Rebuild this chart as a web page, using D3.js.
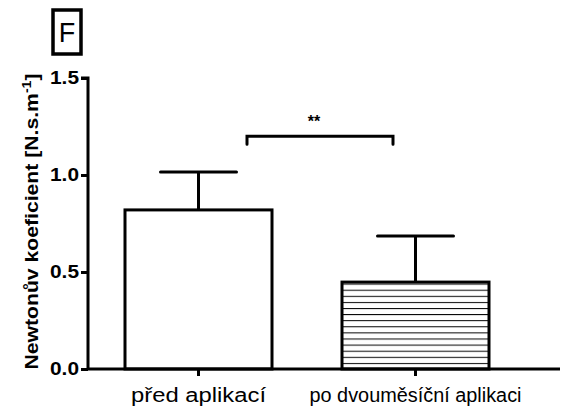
<!DOCTYPE html>
<html><head><meta charset="utf-8">
<script src="https://cdn.jsdelivr.net/npm/d3@7"></script>
<style>body{margin:0;background:#fff}svg{display:block}</style>
</head><body>
<script>
const categories = ["před aplikací", "po dvouměsíční aplikaci"];
const means = [0.82, 0.448];
const sems = [0.195, 0.238];
const yTicks = [0.0, 0.5, 1.0, 1.5];
const yLabel = "Newtonův koeficient [N.s.m";
const panelLetter = "F";
const sigLabel = "**";

const W = 582, H = 417;
const svg = d3.select("body").append("svg").attr("width", W).attr("height", H);
const x0 = 88, x1 = 560, yTop = 78, yBot = 369;
const FONT = "Liberation Sans, Arial, sans-serif";

const y = d3.scaleLinear().domain([0, 1.5]).range([yBot, yTop]);
const x = d3.scaleBand().domain(categories).range([88, 526]).paddingInner(70 / 217).paddingOuter(37 / 217);

// hatch pattern
const defs = svg.append("defs");
const pat = defs.append("pattern").attr("id", "hatch").attr("patternUnits", "userSpaceOnUse")
  .attr("width", 10).attr("height", 6.1).attr("y", yBot);
pat.append("rect").attr("width", 10).attr("height", 6.1).attr("fill", "#fff");
pat.append("line").attr("x1", 0).attr("x2", 10).attr("y1", 0.5).attr("y2", 0.5)
  .attr("stroke", "#000").attr("stroke-width", 1);

const g = svg.append("g");

// bars
g.selectAll("rect.bar").data(categories).enter().append("rect")
  .attr("x", d => x(d)).attr("width", x.bandwidth())
  .attr("y", (d, i) => y(means[i])).attr("height", (d, i) => yBot - y(means[i]))
  .attr("fill", (d, i) => i === 0 ? "#fff" : "url(#hatch)")
  .attr("stroke", "#000").attr("stroke-width", 3);

// error bars
categories.forEach((c, i) => {
  const cx = x(c) + x.bandwidth() / 2;
  g.append("line").attr("x1", cx).attr("x2", cx).attr("y1", y(means[i])).attr("y2", y(means[i] + sems[i]))
    .attr("stroke", "#000").attr("stroke-width", 3);
  g.append("line").attr("x1", cx - 38).attr("x2", cx + 38).attr("y1", y(means[i] + sems[i])).attr("y2", y(means[i] + sems[i]))
    .attr("stroke", "#000").attr("stroke-width", 3).attr("stroke-linecap", "round");
});

// y axis
const yAxis = d3.axisLeft(y).tickValues(yTicks).tickFormat(d3.format(".1f")).tickSize(7).tickPadding(2);
const ya = svg.append("g").attr("transform", `translate(${x0},0)`).call(yAxis);
ya.select(".domain").attr("stroke-width", 3).attr("d", `M-7,${yTop}H0V${yBot}`);
ya.selectAll(".tick line").attr("stroke-width", 3);
ya.selectAll(".tick text").attr("font-family", FONT)
  .attr("font-weight", "bold").attr("font-size", 18).attr("fill", "#000")
  .attr("textLength", 29).attr("lengthAdjust", "spacingAndGlyphs");

// x axis
const xAxis = d3.axisBottom(x).tickSize(7).tickPadding(12);
const xa = svg.append("g").attr("transform", `translate(0,${yBot})`).call(xAxis);
xa.select(".domain").attr("stroke-width", 3).attr("d", `M${x0},0H${x1}`);
xa.selectAll(".tick line").attr("stroke-width", 3);
xa.selectAll(".tick text").attr("font-family", FONT)
  .attr("font-size", 20).attr("fill", "#000")
  .attr("textLength", (d, i) => i === 0 ? 135 : 212).attr("lengthAdjust", "spacingAndGlyphs");

// y label
const yl = svg.append("text").attr("transform", `translate(38,${(yTop + yBot) / 2 - 2}) rotate(-90)`)
  .attr("text-anchor", "middle").attr("font-family", FONT)
  .attr("font-weight", "bold").attr("font-size", 18)
  .attr("textLength", 296).attr("lengthAdjust", "spacingAndGlyphs");
yl.append("tspan").text(yLabel);
yl.append("tspan").attr("baseline-shift", "super").attr("font-size", 12).text("-1");
yl.append("tspan").text("]");

// significance bracket
const bx1 = 247, bx2 = 393, by = y(1.2);
svg.append("path").attr("d", `M${bx1},${by + 8}V${by}H${bx2}V${by + 8}`)
  .attr("fill", "none").attr("stroke", "#000").attr("stroke-width", 3).attr("stroke-linecap", "round");
svg.append("text").attr("x", (bx1 + bx2) / 2 - 6).attr("y", by - 9).attr("text-anchor", "middle")
  .attr("font-family", FONT).attr("font-weight", "bold").attr("font-size", 16)
  .text(sigLabel);

// panel letter
svg.append("rect").attr("x", 53).attr("y", 10).attr("width", 28).attr("height", 44)
  .attr("fill", "#fff").attr("stroke", "#000").attr("stroke-width", 3.5);
svg.append("text").attr("x", 67).attr("y", 42).attr("text-anchor", "middle")
  .attr("font-family", FONT).attr("font-size", 27).text(panelLetter);
</script>
</body></html>
